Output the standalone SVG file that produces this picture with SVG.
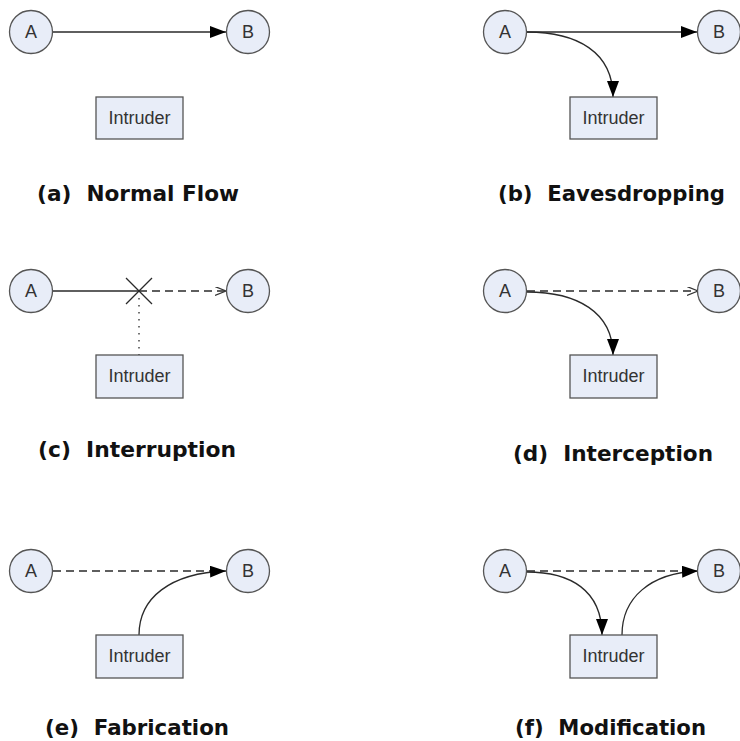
<svg xmlns="http://www.w3.org/2000/svg" width="740" height="741" viewBox="0 0 740 741">
<style>
.n circle,.n rect{fill:#e8edf8;stroke:#555;stroke-width:1.3}
.lbl{font-family:"Liberation Sans",Arial,sans-serif;font-size:18px;fill:#333;text-anchor:middle}
.ttl{font-family:"DejaVu Sans",Verdana,sans-serif;font-size:21px;font-weight:bold;fill:#111}
.c{fill:none;stroke:#2a2a2a;stroke-width:1.3}
.d{stroke-dasharray:8 5}
.dot{stroke-dasharray:1.5 5.5}
</style>
<defs>
<marker id="fa" markerUnits="userSpaceOnUse" markerWidth="18" markerHeight="14" refX="16" refY="6" orient="auto"><path d="M0,0 L16,6 L0,12 z" fill="#000"/></marker>
<marker id="oa" markerUnits="userSpaceOnUse" markerWidth="12" markerHeight="10" refX="11" refY="4.5" orient="auto"><path d="M0,0 L11,4.5 L0,9" fill="none" stroke="#333" stroke-width="1.2"/></marker>
</defs>
<rect width="740" height="741" fill="#fff"/>
<g id="connectors">
<line class="c" x1="53" y1="32" x2="226" y2="32" marker-end="url(#fa)"/>
<line class="c" x1="527" y1="32" x2="697" y2="32" marker-end="url(#fa)"/>
<path class="c" d="M527,32 C577,32 613,52 613,97" marker-end="url(#fa)"/>
<line class="c" x1="53" y1="291" x2="139" y2="291"/>
<line class="c d" x1="139" y1="291" x2="226" y2="291" marker-end="url(#oa)"/>
<line class="c" x1="126" y1="278" x2="152" y2="304" stroke="#555"/>
<line class="c" x1="152" y1="278" x2="126" y2="304" stroke="#555"/>
<line class="c dot" x1="139" y1="298" x2="139" y2="355"/>
<line class="c d" x1="527" y1="291" x2="698" y2="291" marker-end="url(#oa)"/>
<path class="c" d="M527,292 C577,292 613,312 613,355" marker-end="url(#fa)"/>
<line class="c d" x1="53" y1="571" x2="212" y2="571"/>
<path class="c" d="M139,635 C139,598 170,573 226,571" marker-end="url(#fa)"/>
<line class="c d" x1="527" y1="571" x2="686" y2="571"/>
<path class="c" d="M527,572 C570,572 602,590 602,635" marker-end="url(#fa)"/>
<path class="c" d="M622,635 C622,598 650,573 698,571" marker-end="url(#fa)"/>
</g>
<g id="a-A" class="n"><circle cx="31" cy="32" r="21.5"/><text class="lbl" x="31" y="38">A</text></g>
<g id="a-B" class="n"><circle cx="248" cy="32" r="21.5"/><text class="lbl" x="248" y="38">B</text></g>
<g id="a-I" class="n"><rect x="96" y="97" width="87" height="42"/><text class="lbl" x="139.5" y="124">Intruder</text></g>
<g id="b-A" class="n"><circle cx="505" cy="32" r="21.5"/><text class="lbl" x="505" y="38">A</text></g>
<g id="b-B" class="n"><circle cx="719" cy="32" r="21.5"/><text class="lbl" x="719" y="38">B</text></g>
<g id="b-I" class="n"><rect x="570" y="97" width="87" height="42"/><text class="lbl" x="613.5" y="124">Intruder</text></g>
<g id="c-A" class="n"><circle cx="31" cy="291" r="21.5"/><text class="lbl" x="31" y="297">A</text></g>
<g id="c-B" class="n"><circle cx="248" cy="291" r="21.5"/><text class="lbl" x="248" y="297">B</text></g>
<g id="c-I" class="n"><rect x="96" y="355" width="87" height="43"/><text class="lbl" x="139.5" y="382">Intruder</text></g>
<g id="d-A" class="n"><circle cx="505" cy="291" r="21.5"/><text class="lbl" x="505" y="297">A</text></g>
<g id="d-B" class="n"><circle cx="719" cy="291" r="21.5"/><text class="lbl" x="719" y="297">B</text></g>
<g id="d-I" class="n"><rect x="570" y="355" width="87" height="43"/><text class="lbl" x="613.5" y="382">Intruder</text></g>
<g id="e-A" class="n"><circle cx="31" cy="571" r="21.5"/><text class="lbl" x="31" y="577">A</text></g>
<g id="e-B" class="n"><circle cx="248" cy="571" r="21.5"/><text class="lbl" x="248" y="577">B</text></g>
<g id="e-I" class="n"><rect x="96" y="635" width="87" height="43"/><text class="lbl" x="139.5" y="662">Intruder</text></g>
<g id="f-A" class="n"><circle cx="505" cy="571" r="21.5"/><text class="lbl" x="505" y="577">A</text></g>
<g id="f-B" class="n"><circle cx="719" cy="571" r="21.5"/><text class="lbl" x="719" y="577">B</text></g>
<g id="f-I" class="n"><rect x="570" y="635" width="87" height="43"/><text class="lbl" x="613.5" y="662">Intruder</text></g>
<g id="titles">
<text class="ttl" x="37" y="201" textLength="202" lengthAdjust="spacingAndGlyphs" xml:space="preserve">(a)  Normal Flow</text>
<text class="ttl" x="498" y="201" textLength="227" lengthAdjust="spacingAndGlyphs" xml:space="preserve">(b)  Eavesdropping</text>
<text class="ttl" x="38" y="457" textLength="198" lengthAdjust="spacingAndGlyphs" xml:space="preserve">(c)  Interruption</text>
<text class="ttl" x="513" y="461" textLength="200" lengthAdjust="spacingAndGlyphs" xml:space="preserve">(d)  Interception</text>
<text class="ttl" x="45" y="735" textLength="184" lengthAdjust="spacingAndGlyphs" xml:space="preserve">(e)  Fabrication</text>
<text class="ttl" x="515" y="735" textLength="191" lengthAdjust="spacingAndGlyphs" xml:space="preserve">(f)  Modification</text>
</g>
</svg>
